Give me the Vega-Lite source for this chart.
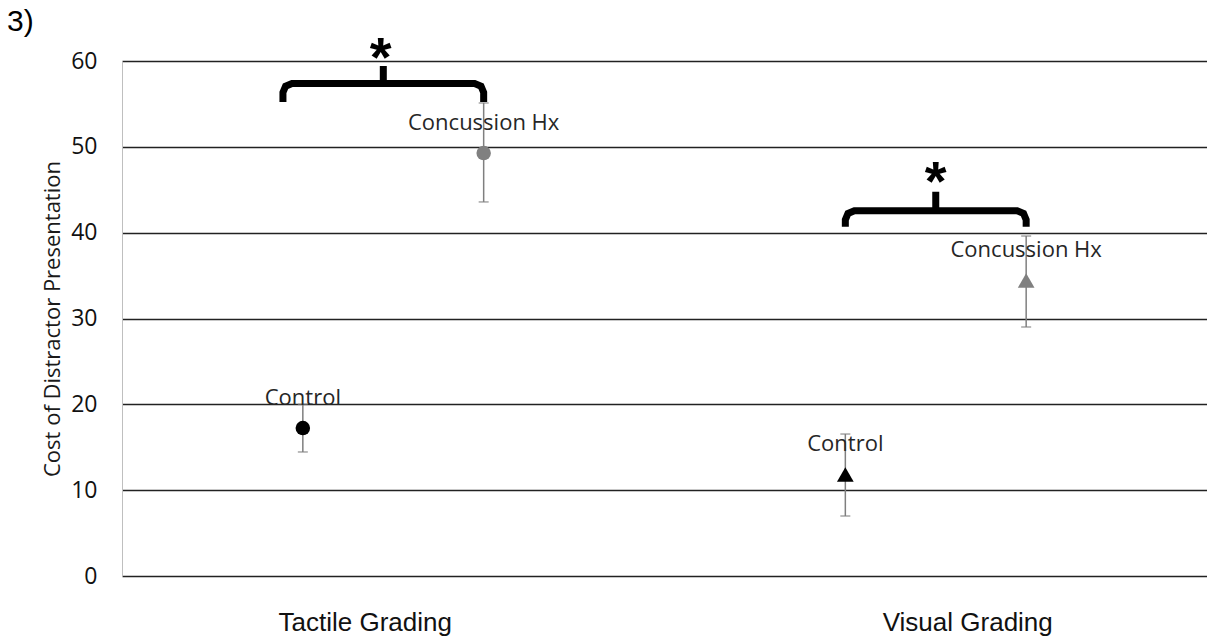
{
  "$schema": "https://vega.github.io/schema/vega-lite/v6.json",
  "width": 1085,
  "height": 515,
  "autosize": "none",
  "padding": {"left": 122, "top": 61, "right": 0, "bottom": 60},
  "background": "white",
  "title": {"text": "3)", "anchor": "start", "frame": "group", "dx": -115, "offset": -30, "baseline": "alphabetic", "font": "Liberation Sans", "fontSize": 30, "fontWeight": "normal", "color": "#000000"},
  "config": {
    "view": {"stroke": null},
    "axisY": {
      "grid": true, "gridColor": "#222222", "gridWidth": 1.4, "tickCount": 6,
      "domain": true, "domainColor": "#bfbfbf", "domainWidth": 1,
      "ticks": false, "tickSize": 0,
      "labelFont": "Open Sans", "labelFontSize": 23, "labelColor": "#111111", "labelPadding": 25,
      "titleFont": "Open Sans", "titleFontSize": 22, "titleFontWeight": "normal", "titleColor": "#1a1a1a", "titlePadding": 6
    }
  },
  "resolve": {"scale": {"x": "independent"}},
  "layer": [
    {
      "data": {"values": [
        {"grading": "Tactile Grading", "group": "Control", "mean": 17.24, "lo": 14.45, "hi": 20.0},
        {"grading": "Tactile Grading", "group": "Concussion Hx", "mean": 49.28, "lo": 43.58, "hi": 55.11},
        {"grading": "Visual Grading", "group": "Control", "mean": 11.83, "lo": 6.99, "hi": 16.54},
        {"grading": "Visual Grading", "group": "Concussion Hx", "mean": 34.43, "lo": 29.01, "hi": 39.61}
      ]},
      "encoding": {
        "x": {"field": "grading", "type": "nominal",
          "scale": {"domain": ["Tactile Grading", "Visual Grading"], "paddingInner": 0, "paddingOuter": 0},
          "axis": {"title": null, "domain": false, "ticks": false, "tickSize": 0, "grid": false, "labelAngle": 0,
            "labelFont": "Liberation Sans", "labelFontSize": 26, "labelColor": "#111111", "labelPadding": 33,
            "labelOffset": {"condition": {"test": "datum.value === 'Tactile Grading'", "value": -28}, "value": 32}}},
        "xOffset": {"field": "group", "type": "nominal",
          "scale": {"domain": ["Control", "Concussion Hx"], "paddingInner": 0, "paddingOuter": 0.5}}
      },
      "layer": [
        {
          "mark": {"type": "rule", "color": "#7f7f7f", "strokeWidth": 1.5},
          "encoding": {
            "y": {"field": "lo", "type": "quantitative", "scale": {"domain": [0, 60], "nice": false}, "title": "Cost of Distractor Presentation"},
            "y2": {"field": "hi"}
          }
        },
        {
          "mark": {"type": "tick", "color": "#7f7f7f", "thickness": 1.5, "size": 10, "orient": "horizontal"},
          "encoding": {"y": {"field": "hi", "type": "quantitative", "scale": {"domain": [0, 60], "nice": false}, "title": "Cost of Distractor Presentation"}}
        },
        {
          "mark": {"type": "tick", "color": "#7f7f7f", "thickness": 1.5, "size": 10, "orient": "horizontal"},
          "encoding": {"y": {"field": "lo", "type": "quantitative", "scale": {"domain": [0, 60], "nice": false}, "title": "Cost of Distractor Presentation"}}
        },
        {
          "mark": {"type": "point", "filled": true, "opacity": 1},
          "encoding": {
            "y": {"field": "mean", "type": "quantitative", "scale": {"domain": [0, 60], "nice": false}, "title": "Cost of Distractor Presentation"},
            "shape": {"field": "grading", "type": "nominal", "scale": {"domain": ["Tactile Grading", "Visual Grading"], "range": ["circle", "triangle-up"]}, "legend": null},
            "color": {"field": "group", "type": "nominal", "scale": {"domain": ["Control", "Concussion Hx"], "range": ["#000000", "#808080"]}, "legend": null},
            "size": {"field": "grading", "type": "ordinal", "scale": {"domain": ["Tactile Grading", "Visual Grading"], "range": [210, 280]}, "legend": null}
          }
        },
        {
          "mark": {"type": "text", "font": "Open Sans", "fontSize": 22, "color": "#262626", "dy": -23, "baseline": "alphabetic", "align": "center"},
          "encoding": {
            "y": {"field": "mean", "type": "quantitative", "scale": {"domain": [0, 60], "nice": false}, "title": "Cost of Distractor Presentation"},
            "text": {"field": "group", "type": "nominal"}
          }
        }
      ]
    },
    {
      "layer": [
        {
          "data": {"values": [
            {"bracket": "tactile", "i": 0, "pos": 0.89, "y": 55.23},
            {"bracket": "tactile", "i": 1, "pos": 0.89, "y": 56.33},
            {"bracket": "tactile", "i": 2, "pos": 0.9046, "y": 57.07},
            {"bracket": "tactile", "i": 3, "pos": 0.94, "y": 57.38},
            {"bracket": "tactile", "i": 4, "pos": 1.445, "y": 57.38},
            {"bracket": "tactile", "i": 5, "pos": 1.445, "y": 59.42},
            {"bracket": "tactile", "i": 6, "pos": 1.445, "y": 57.38},
            {"bracket": "tactile", "i": 7, "pos": 1.95, "y": 57.38},
            {"bracket": "tactile", "i": 8, "pos": 1.9854, "y": 57.07},
            {"bracket": "tactile", "i": 9, "pos": 2.0, "y": 56.33},
            {"bracket": "tactile", "i": 10, "pos": 2.0, "y": 55.23},
            {"bracket": "visual", "i": 0, "pos": 4.0, "y": 40.7},
            {"bracket": "visual", "i": 1, "pos": 4.0, "y": 41.5},
            {"bracket": "visual", "i": 2, "pos": 4.0146, "y": 42.24},
            {"bracket": "visual", "i": 3, "pos": 4.05, "y": 42.55},
            {"bracket": "visual", "i": 4, "pos": 4.5, "y": 42.55},
            {"bracket": "visual", "i": 5, "pos": 4.5, "y": 44.78},
            {"bracket": "visual", "i": 6, "pos": 4.5, "y": 42.55},
            {"bracket": "visual", "i": 7, "pos": 4.95, "y": 42.55},
            {"bracket": "visual", "i": 8, "pos": 4.9854, "y": 42.24},
            {"bracket": "visual", "i": 9, "pos": 5.0, "y": 41.5},
            {"bracket": "visual", "i": 10, "pos": 5.0, "y": 40.7}
          ]},
          "mark": {"type": "line", "color": "#000000", "strokeWidth": 7, "strokeJoin": "miter", "strokeCap": "butt", "strokeMiterLimit": 4},
          "encoding": {
            "x": {"field": "pos", "type": "quantitative", "scale": {"domain": [0, 6], "nice": false, "zero": false}, "axis": null},
            "y": {"field": "y", "type": "quantitative", "scale": {"domain": [0, 60], "nice": false}, "title": "Cost of Distractor Presentation"},
            "detail": {"field": "bracket", "type": "nominal"},
            "order": {"field": "i", "type": "quantitative"}
          }
        },
        {
          "data": {"values": [
            {"pos": 1.43, "y": 58.3, "label": "*"},
            {"pos": 4.5, "y": 43.75, "label": "*"}
          ]},
          "mark": {"type": "text", "font": "Liberation Sans", "fontWeight": "bold", "fontSize": 56, "baseline": "alphabetic", "align": "center", "color": "#000000"},
          "encoding": {
            "x": {"field": "pos", "type": "quantitative", "scale": {"domain": [0, 6], "nice": false, "zero": false}, "axis": null},
            "y": {"field": "y", "type": "quantitative", "scale": {"domain": [0, 60], "nice": false}, "title": "Cost of Distractor Presentation"},
            "text": {"field": "label", "type": "nominal"}
          }
        }
      ]
    }
  ]
}
